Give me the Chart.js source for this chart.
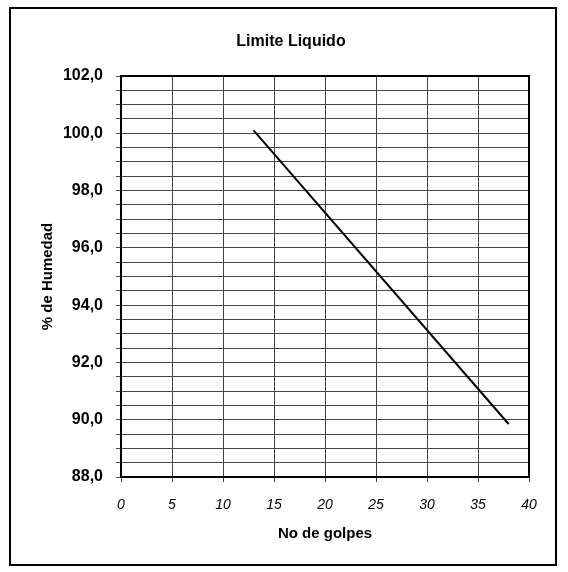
<!DOCTYPE html>
<html>
<head>
<meta charset="utf-8">
<script src="https://cdn.jsdelivr.net/npm/chart.js@4/dist/chart.umd.min.js"></script>
<style>
  html, body { margin: 0; padding: 0; background: #fff; }
  #wrap { width: 568px; height: 572px; }
</style>
</head>
<body>
<div id="wrap"><canvas id="chart" width="568" height="572"></canvas></div>
<script>
// Data
const golpes = [13, 38];
const humedad = [100.1, 89.85];
const xTicks = [0, 5, 10, 15, 20, 25, 30, 35, 40];
const chartTitle = 'Limite Liquido';

const FONT = "'Liberation Sans', Arial, sans-serif";

// outer frame, plot box and title
const framePlugin = {
    id: 'frame',
    afterDraw(chart) {
        const ctx = chart.ctx;
        const a = chart.chartArea;
        ctx.save();
        ctx.strokeStyle = '#000';
        ctx.lineWidth = 2;
        ctx.strokeRect(10, 8, 546, 557);
        ctx.strokeRect(a.left, a.top, a.right - a.left, a.bottom - a.top);
        ctx.fillStyle = '#000';
        ctx.font = 'bold 16px ' + FONT;
        ctx.textAlign = 'center';
        ctx.textBaseline = 'middle';
        ctx.fillText(chartTitle, 291, 42);
        ctx.restore();
    }
};

new Chart(document.getElementById('chart').getContext('2d'), {
    type: 'scatter',
    data: {
        datasets: [{
            label: chartTitle,
            data: golpes.map((g, i) => ({ x: g, y: humedad[i] })),
            showLine: true,
            borderColor: '#000',
            borderWidth: 2,
            pointRadius: 0,
            fill: false
        }]
    },
    options: {
        responsive: false,
        animation: false,
        layout: { padding: { left: 10, right: 39, top: 76, bottom: 0 } },
        plugins: {
            legend: { display: false },
            tooltip: { enabled: false },
            title: { display: false }
        },
        scales: {
            x: {
                type: 'linear',
                min: 0,
                max: 40,
                afterBuildTicks: (scale) => { scale.ticks = xTicks.map(v => ({ value: v })); },
                afterFit: (scale) => { scale.height = 95; },
                grid: { color: '#444', lineWidth: 1, tickLength: 5 },
                border: { color: '#000', width: 2 },
                ticks: {
                    color: '#000',
                    padding: 15,
                    maxRotation: 0,
                    autoSkip: false,
                    font: { family: FONT, size: 14, style: 'italic' }
                },
                title: {
                    display: true,
                    text: 'No de golpes',
                    color: '#000',
                    font: { family: FONT, size: 15, weight: 'bold' },
                    padding: { top: 0, bottom: 29 }
                }
            },
            y: {
                min: 88,
                max: 102,
                afterFit: (scale) => { scale.width = 111; },
                grid: { color: '#444', lineWidth: 1, tickLength: 5 },
                border: { color: '#000', width: 2 },
                ticks: {
                    stepSize: 0.5,
                    autoSkip: false,
                    color: '#000',
                    padding: 13,
                    font: { family: FONT, size: 16, weight: 'bold' },
                    callback: (v) => (Math.abs(v % 2) < 1e-6 ? v.toFixed(1).replace('.', ',') : '')
                },
                title: {
                    display: true,
                    text: '% de Humedad',
                    color: '#000',
                    font: { family: FONT, size: 15, weight: 'bold' },
                    padding: { top: 29, bottom: 0 }
                }
            }
        }
    },
    plugins: [framePlugin]
});
</script>
</body>
</html>
